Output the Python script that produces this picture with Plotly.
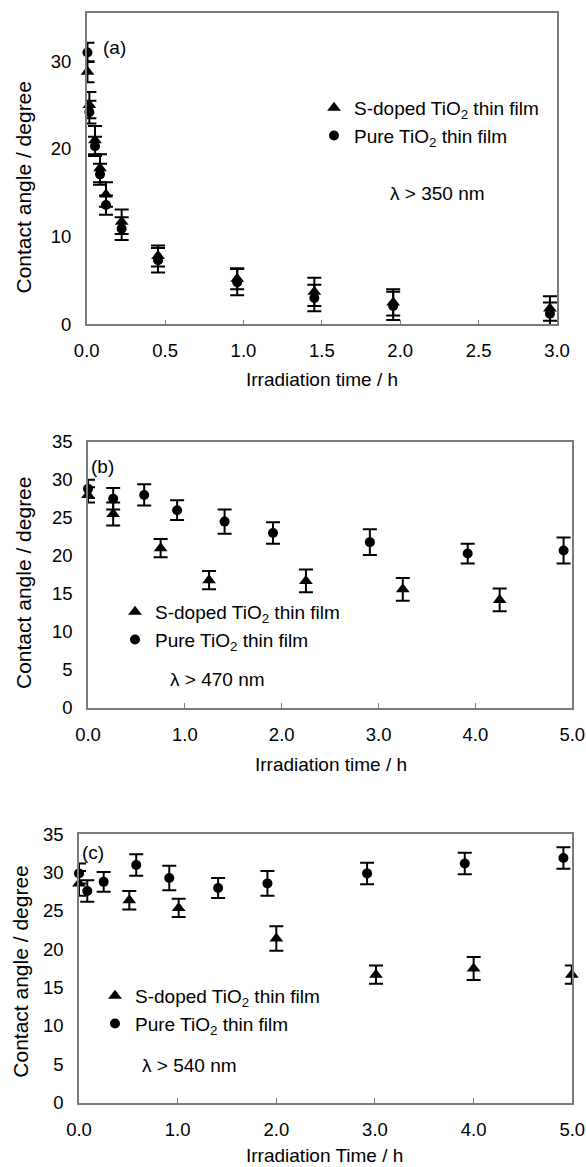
import plotly.graph_objects as go

W, H = 586, 1167
FONT = "Liberation Sans, Arial, sans-serif"

# ---------------- Panel (a): lambda > 350 nm ----------------
a_time_s = [0.005, 0.017, 0.053, 0.085, 0.123, 0.223, 0.455, 0.96, 1.452, 1.955, 2.955]
a_s_doped = [28.8, 25.0, 21.0, 17.8, 14.8, 11.7, 7.8, 5.2, 3.7, 2.5, 1.8]
a_s_err = [1.2, 1.5, 1.6, 1.6, 1.4, 1.4, 1.2, 1.2, 1.6, 1.5, 1.4]
a_time_p = [0.005, 0.017, 0.053, 0.085, 0.123, 0.223, 0.455, 0.96, 1.452, 1.955, 2.955]
a_pure = [31.0, 24.2, 20.3, 17.1, 13.6, 10.9, 7.3, 4.8, 3.0, 2.1, 1.2]
a_p_err = [1.1, 1.3, 1.1, 1.2, 1.1, 1.3, 1.4, 1.5, 1.5, 1.6, 1.3]

# ---------------- Panel (b): lambda > 470 nm ----------------
b_time_s = [0.0, 0.26, 0.75, 1.25, 2.25, 3.25, 4.25]
b_s_doped = [28.0, 25.5, 21.0, 16.8, 16.7, 15.6, 14.2]
b_s_err = [1.0, 1.5, 1.2, 1.2, 1.5, 1.5, 1.5]
b_time_p = [0.0, 0.26, 0.58, 0.92, 1.41, 1.91, 2.91, 3.92, 4.91]
b_pure = [28.8, 27.5, 28.0, 26.0, 24.5, 23.0, 21.8, 20.3, 20.7]
b_p_err = [1.2, 1.4, 1.4, 1.3, 1.6, 1.4, 1.7, 1.3, 1.7]

# ---------------- Panel (c): lambda > 540 nm ----------------
c_time_s = [0.0, 0.51, 1.01, 2.0, 3.01, 4.0, 4.995]
c_s_doped = [28.6, 26.4, 25.4, 21.4, 16.7, 17.5, 16.7]
c_s_err = [1.6, 1.2, 1.2, 1.6, 1.2, 1.5, 1.2]
c_time_p = [0.0, 0.084, 0.25, 0.58, 0.915, 1.41, 1.91, 2.92, 3.91, 4.91]
c_pure = [29.9, 27.6, 28.8, 31.0, 29.3, 28.0, 28.6, 29.9, 31.2, 31.9]
c_p_err = [1.3, 1.4, 1.3, 1.4, 1.6, 1.3, 1.6, 1.4, 1.4, 1.4]

x_ticks_a = [0.0, 0.5, 1.0, 1.5, 2.0, 2.5, 3.0]
y_ticks_a = [0, 10, 20, 30]
x_ticks_bc = [0.0, 1.0, 2.0, 3.0, 4.0, 5.0]
y_ticks_bc = [0, 5, 10, 15, 20, 25, 30, 35]

LBL_S = "S-doped TiO<sub>2</sub> thin film"
LBL_P = "Pure TiO<sub>2</sub> thin film"

def px(xp):
    return xp / W

def py(yp):
    return 1 - yp / H

fig = go.Figure()

panels = [
    ("x", "y", "legend", a_time_s, a_s_doped, a_s_err, a_time_p, a_pure, a_p_err),
    ("x2", "y2", "legend2", b_time_s, b_s_doped, b_s_err, b_time_p, b_pure, b_p_err),
    ("x3", "y3", "legend3", c_time_s, c_s_doped, c_s_err, c_time_p, c_pure, c_p_err),
]

for xa, ya, lg, xs, ys, es, xp, yp, ep in panels:
    fig.add_trace(go.Scatter(
        x=xs, y=ys, mode="markers", name=LBL_S, xaxis=xa, yaxis=ya, legend=lg,
        marker=dict(symbol="triangle-up", size=12, color="black"),
        error_y=dict(type="data", array=es, visible=True, color="black",
                     thickness=2, width=7),
        cliponaxis=False,
    ))
    fig.add_trace(go.Scatter(
        x=xp, y=yp, mode="markers", name=LBL_P, xaxis=xa, yaxis=ya, legend=lg,
        marker=dict(symbol="circle", size=10, color="black"),
        error_y=dict(type="data", array=ep, visible=True, color="black",
                     thickness=2, width=7),
        cliponaxis=False,
    ))

AX_COL = "#7a7a7a"
tickfont = dict(family=FONT, size=18.5, color="black")

def xaxis(domain, rng, ticks, anchor):
    return dict(domain=domain, range=rng, anchor=anchor, tickvals=ticks,
                tickformat=".1f", ticks="inside", ticklen=5, tickcolor=AX_COL,
                tickwidth=1, showline=True, linecolor=AX_COL, linewidth=1.5,
                mirror=True, showgrid=False, zeroline=False, tickfont=tickfont,
                ticklabelstandoff=9, automargin=False)

def yaxis(domain, rng, ticks, anchor):
    return dict(domain=domain, range=rng, anchor=anchor, tickvals=ticks,
                ticks="", showline=True, linecolor=AX_COL, linewidth=1.5,
                mirror=True, showgrid=False, zeroline=False, tickfont=tickfont,
                ticklabelstandoff=10, automargin=False)

legfont = dict(family=FONT, size=19, color="black")

fig.update_layout(
    template="none",
    width=W, height=H,
    margin=dict(l=0, r=0, t=0, b=0, pad=0, autoexpand=False),
    paper_bgcolor="white", plot_bgcolor="white",
    font=dict(family=FONT, color="black"),
    xaxis=xaxis([px(86.7), px(557)], [0, 3], x_ticks_a, "y"),
    yaxis=yaxis([py(324.3), py(13)], [0, 35.5], y_ticks_a, "x"),
    xaxis2=xaxis([px(88), px(572.3)], [0, 5], x_ticks_bc, "y2"),
    yaxis2=yaxis([py(708), py(441.7)], [0, 35], y_ticks_bc, "x2"),
    xaxis3=xaxis([px(79), px(572.3)], [0, 5], x_ticks_bc, "y3"),
    yaxis3=yaxis([py(1102.7), py(834.3)], [0, 35], y_ticks_bc, "x3"),
    legend=dict(x=px(314), y=py(89), xanchor="left", yanchor="top",
                font=legfont, bgcolor="rgba(0,0,0,0)", borderwidth=0,
                tracegroupgap=0),
    legend2=dict(x=px(115), y=py(593), xanchor="left", yanchor="top",
                 font=legfont, bgcolor="rgba(0,0,0,0)", borderwidth=0,
                 tracegroupgap=0),
    legend3=dict(x=px(95), y=py(977), xanchor="left", yanchor="top",
                 font=legfont, bgcolor="rgba(0,0,0,0)", borderwidth=0,
                 tracegroupgap=0),
)

def ann(text, xp_, yp_, size=19, angle=0):
    fig.add_annotation(text=text, x=px(xp_), y=py(yp_), xref="paper", yref="paper",
                       showarrow=False, xanchor="center", yanchor="middle",
                       textangle=angle, font=dict(family=FONT, size=size, color="black"))

# panel labels
ann("(a)", 114.5, 48)
ann("(b)", 102, 466)
ann("(c)", 93.5, 852)
# wavelength notes
ann("λ > 350 nm", 437, 193)
ann("λ > 470 nm", 217.5, 680)
ann("λ > 540 nm", 189, 1065)
# axis titles
ann("Irradiation time / h", 322, 380)
ann("Irradiation time / h", 331, 764)
ann("Irradiation Time / h", 324, 1155)
ann("Contact angle / degree", 23, 187.5, size=21, angle=-90)
ann("Contact angle / degree", 23, 583, size=21, angle=-90)
ann("Contact angle / degree", 21, 971.7, size=21, angle=-90)

fig.write_html(
    "out.html",
    config={"displayModeBar": False},
    post_script="document.body.style.margin='0';document.body.style.overflow='hidden';",
)
